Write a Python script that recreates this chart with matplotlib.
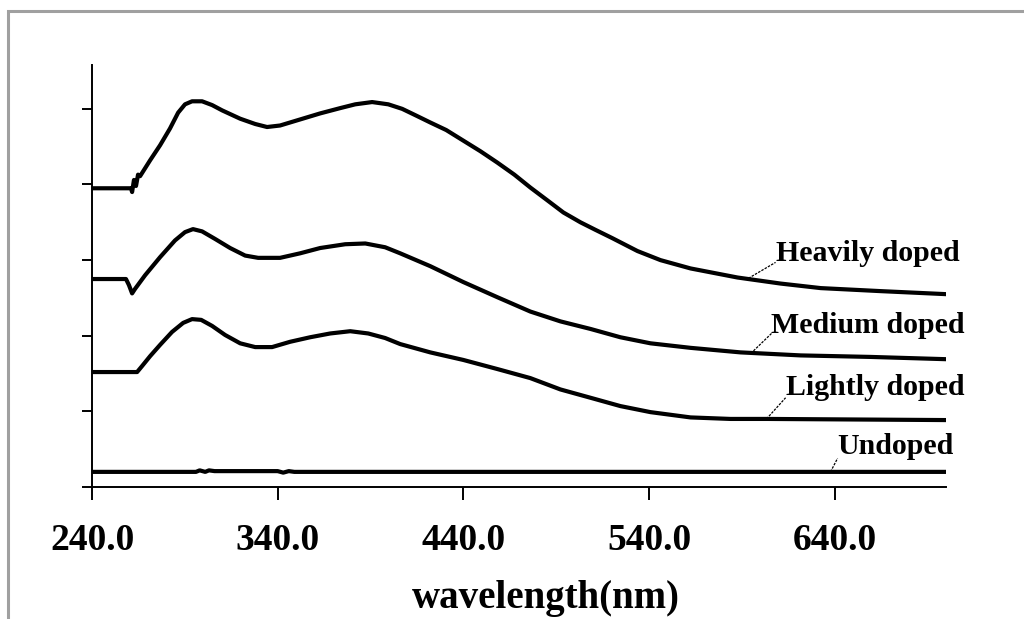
import matplotlib.pyplot as plt
from matplotlib.patches import Rectangle

# Spectra (wavelength in nm, intensity in arbitrary offset units)
heavy_nm = [240, 261.0, 261.6, 262.6, 263.7, 264.8, 265.9, 271.3, 276.7, 282.0,
            286.4, 290.1, 293.9, 299.3, 304.7, 310.1, 319.8, 327.9, 334.3, 341.3,
            352.1, 362.9, 373.7, 381.8, 390.9, 399.6, 407.1, 414.7, 422.2, 430.8,
            440.0, 449.2, 458.3, 467.5, 476.1, 485.3, 493.9, 503.1, 511.2, 520.3,
            533.8, 546.2, 562.4, 587.7, 610.9, 632.5, 664.8, 700]
heavy_val = [3.95, 3.95, 3.90, 4.06, 3.98, 4.13, 4.11, 4.32, 4.52, 4.74,
             4.95, 5.06, 5.10, 5.10, 5.05, 4.98, 4.87, 4.80, 4.76, 4.78,
             4.86, 4.94, 5.01, 5.06, 5.09, 5.06, 5.00, 4.91, 4.82, 4.72,
             4.58, 4.44, 4.29, 4.13, 3.96, 3.79, 3.63, 3.50, 3.40, 3.29,
             3.12, 3.00, 2.89, 2.77, 2.69, 2.63, 2.59, 2.55]

medium_nm = [240, 258.3, 259.9, 261.6, 263.2, 268.6, 276.7, 284.7, 290.1, 294.4,
             299.3, 306.3, 314.4, 322.5, 329.5, 341.3, 352.1, 362.9, 376.4, 387.2,
             397.9, 406.0, 422.2, 440.0, 458.3, 476.1, 492.3, 508.5, 524.6, 540.8,
             562.4, 589.3, 621.7, 659.4, 700]
medium_val = [2.75, 2.75, 2.67, 2.56, 2.62, 2.80, 3.04, 3.26, 3.37, 3.41,
              3.38, 3.28, 3.16, 3.06, 3.03, 3.03, 3.09, 3.16, 3.21, 3.22,
              3.17, 3.09, 2.92, 2.71, 2.51, 2.32, 2.19, 2.09, 1.98, 1.90,
              1.84, 1.78, 1.74, 1.72, 1.69]

light_nm = [240, 264.3, 267.0, 271.3, 276.7, 283.1, 289.1, 293.9, 298.8, 304.7,
            311.7, 319.8, 327.9, 337.0, 346.7, 357.5, 368.3, 379.1, 388.8, 397.9,
            406.0, 422.2, 440.0, 458.3, 476.1, 492.3, 508.5, 524.6, 540.8, 562.4,
            583.9, 603.9, 700]
light_val = [1.52, 1.52, 1.60, 1.73, 1.88, 2.05, 2.17, 2.22, 2.21, 2.13,
             2.01, 1.90, 1.85, 1.85, 1.92, 1.98, 2.03, 2.06, 2.03, 1.97,
             1.89, 1.78, 1.68, 1.56, 1.44, 1.29, 1.18, 1.07, 0.99, 0.92,
             0.90, 0.90, 0.885]

undoped_nm = [240, 296, 298, 301, 303, 306, 340, 343, 346, 349, 700]
undoped_val = [0.20, 0.20, 0.22, 0.20, 0.22, 0.21, 0.21, 0.19, 0.21, 0.20, 0.20]

labels = ['Heavily doped', 'Medium doped', 'Lightly doped', 'Undoped']
label_xy = [(608.7, 3.09), (606.0, 2.14), (613.6, 1.32), (641.6, 0.53)]
leader_from = [(593.6, 2.76), (596.3, 1.80), (603.3, 0.90), (637.8, 0.20)]
leader_to = [(608.2, 2.97), (606.0, 2.03), (613.6, 1.18), (641.6, 0.38)]

xticks = [240, 340, 440, 540, 640]

serif = ['Liberation Serif', 'DejaVu Serif']

fig = plt.figure(figsize=(10.24, 6.19), dpi=100)
ax = fig.add_axes([92 / 1024, 1 - 487 / 619, 854 / 1024, 422 / 619])

for xs, ys in [(heavy_nm, heavy_val), (medium_nm, medium_val),
               (light_nm, light_val), (undoped_nm, undoped_val)]:
    ax.plot(xs, ys, color='black', lw=3.0, solid_joinstyle='round')

for text, pos, p0, p1 in zip(labels, label_xy, leader_from, leader_to):
    ax.plot([p0[0], p1[0]], [p0[1], p1[1]], color='black', lw=0.9, ls=(0, (2, 1)))
    ax.text(pos[0], pos[1], text, family=serif, fontweight='bold', fontsize=21.5,
            ha='left', va='center')

ax.set_xlim(240, 700)
ax.set_ylim(0, 5.58)
ax.set_xticks(xticks)
ax.set_xticklabels([f'{t:.1f}' for t in xticks], family=serif, fontsize=27,
                   fontweight='bold')
ax.set_yticks([0, 1, 2, 3, 4, 5])
ax.set_yticklabels([])
ax.tick_params(axis='x', direction='out', length=9, width=1.4, pad=17)
ax.tick_params(axis='y', direction='out', length=7, width=1.4)
for side in ['top', 'right']:
    ax.spines[side].set_visible(False)
for side in ['left', 'bottom']:
    ax.spines[side].set_linewidth(1.4)

ax.set_xlabel('wavelength(nm)', family=serif, fontsize=28, fontweight='bold')
ax.xaxis.set_label_coords(0.532, -0.22)

# grey frame around the chart area
fig.patches.append(Rectangle((8 / 1024, -0.1), 1.2, 1 - 11 / 619 + 0.1,
                             transform=fig.transFigure, fill=False,
                             edgecolor='#a0a0a0', lw=2.2))

fig.savefig('out.png', dpi=100)
